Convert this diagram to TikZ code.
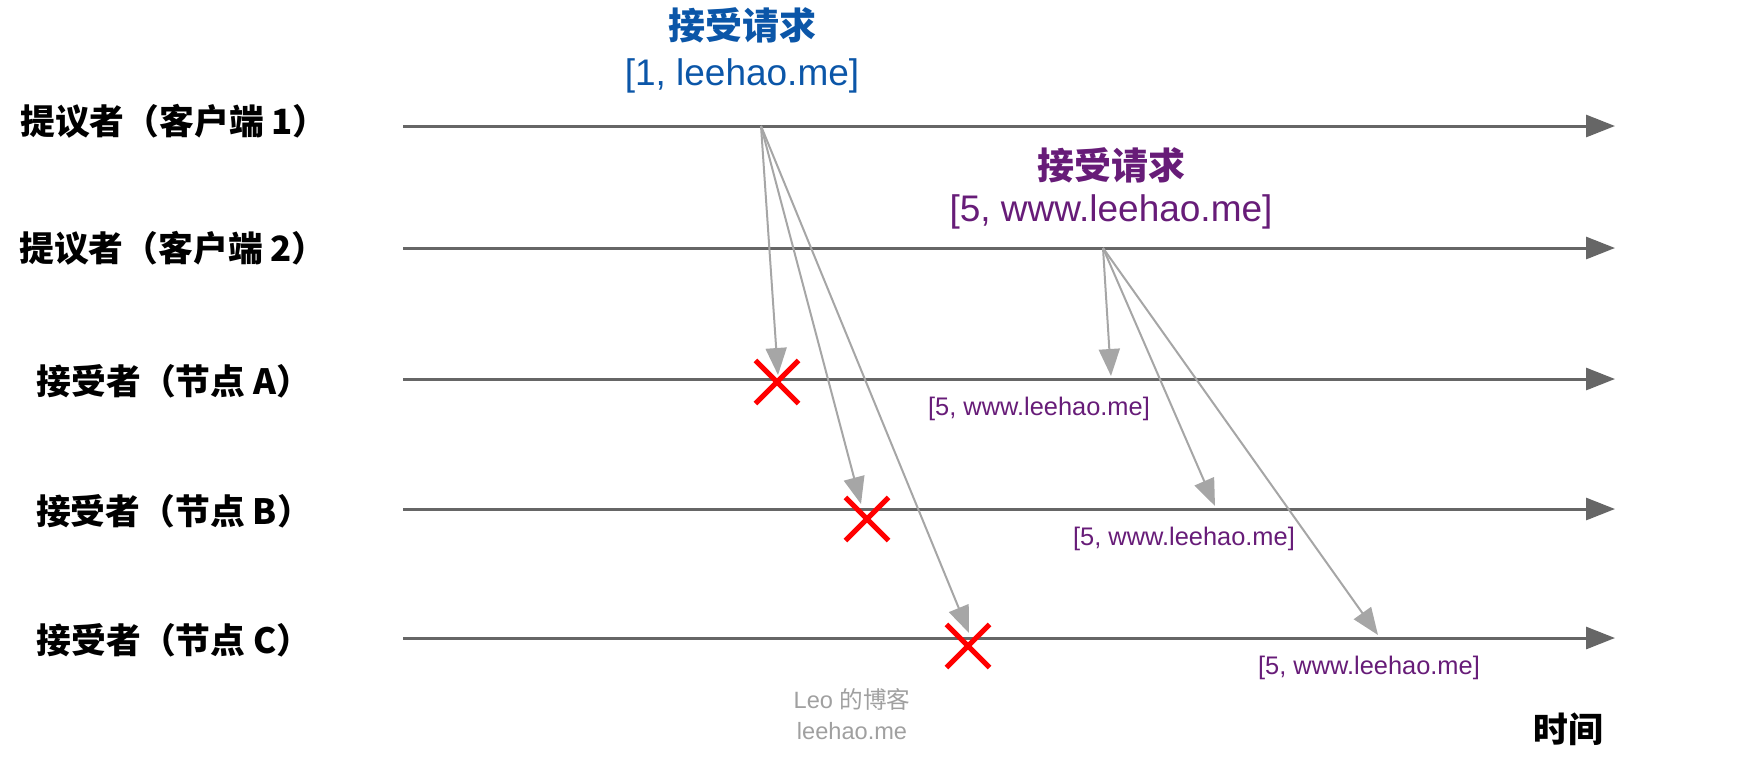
\documentclass[tikz,border=0pt]{standalone}
\usepackage{fontspec}
\setmainfont{Liberation Sans}
\newfontfamily\cjk{Noto Sans CJK SC}
\usepackage{xcolor}
\usetikzlibrary{arrows.meta,shapes.misc}
\definecolor{axisgray}{HTML}{666666}
\definecolor{msggray}{HTML}{A6A6A6}
\definecolor{reqblue}{HTML}{0B56A8}
\definecolor{reqpurple}{HTML}{671C78}
\definecolor{markgray}{HTML}{A0A0A0}
\tikzset{
  timeline/.style={draw=axisgray,line width=1.5pt,-{Triangle[length=14.5pt,width=11pt]}},
  msg/.style={draw=msggray,line width=1pt,-{Triangle[length=13.5pt,width=10.5pt]}},
  lane/.style={font=\cjk\bfseries\fontsize{17.4}{20}\selectfont},
  req/.style={font=\fontsize{18.5}{22}\selectfont},
  val/.style={font=\fontsize{12.7}{15}\selectfont,text=reqpurple},
  lost/.style={cross out,draw=red,line width=2.6pt,minimum size=19pt,inner sep=0pt}
}

\begin{document}
\begin{tikzpicture}[x=0.5pt,y=-0.5pt]
\useasboundingbox (0,0) rectangle (1746,768);
\coordinate (P1) at (403,126); \coordinate (P1e) at (1615,126);
\coordinate (P2) at (403,248); \coordinate (P2e) at (1615,248);
\coordinate (A) at (403,379); \coordinate (Ae) at (1615,379);
\coordinate (B) at (403,509); \coordinate (Be) at (1615,509);
\coordinate (Cc) at (403,638); \coordinate (Cce) at (1615,638);
\node[lane] (lP1) at (174,121) {提议者（客户端 1）};
\node[lane] (lP2) at (173,248) {提议者（客户端 2）};
\node[lane] (lA) at (174,381) {接受者（节点 A）};
\node[lane] (lB) at (174,511) {接受者（节点 B）};
\node[lane] (lC) at (174,640) {接受者（节点 C）};
\draw[timeline] (P1) -- (P1e);
\draw[timeline] (P2) -- (P2e);
\draw[timeline] (A) -- (Ae);
\draw[timeline] (B) -- (Be);
\draw[timeline] (Cc) -- (Cce);
% first proposal, lost on every acceptor
\node[req,text=reqblue] (r1a) at (742,25) {\cjk\bfseries 接受请求};
\node[req,text=reqblue] (r1b) at (742,76) {[1, leehao.me]};
\coordinate (m1) at (761,126);
\coordinate (t1A) at (778,375); \coordinate (t1B) at (861,504); \coordinate (t1C) at (969,633);
\draw[msg] (m1) -- (t1A);
\draw[msg] (m1) -- (t1B);
\draw[msg] (m1) -- (t1C);
\node[lost] (xA) at (777,382) {};
\node[lost] (xB) at (867,519) {};
\node[lost] (xC) at (968,646) {};
% second proposal
\node[req,text=reqpurple] (r2a) at (1111,165) {\cjk\bfseries 接受请求};
\node[req,text=reqpurple] (r2b) at (1111,212) {[5, www.leehao.me]};
\coordinate (m2) at (1103,248);
\coordinate (t2A) at (1111,376); \coordinate (t2B) at (1215,506); \coordinate (t2C) at (1378,635);
\draw[msg] (m2) -- (t2A);
\draw[msg] (m2) -- (t2B);
\draw[msg] (m2) -- (t2C);
\node[val] (vA) at (1039,409) {[5, www.leehao.me]};
\node[val] (vB) at (1184,539) {[5, www.leehao.me]};
\node[val] (vC) at (1369,668) {[5, www.leehao.me]};
\node[font=\fontsize{11.8}{14}\selectfont,text=markgray] (wm1) at (852,699) {Leo {\cjk 的博客}};
\node[font=\fontsize{11.8}{14}\selectfont,text=markgray] (wm2) at (852,731) {leehao.me};
\node[lane] (time) at (1568,729) {时间};
\end{tikzpicture}
\end{document}
